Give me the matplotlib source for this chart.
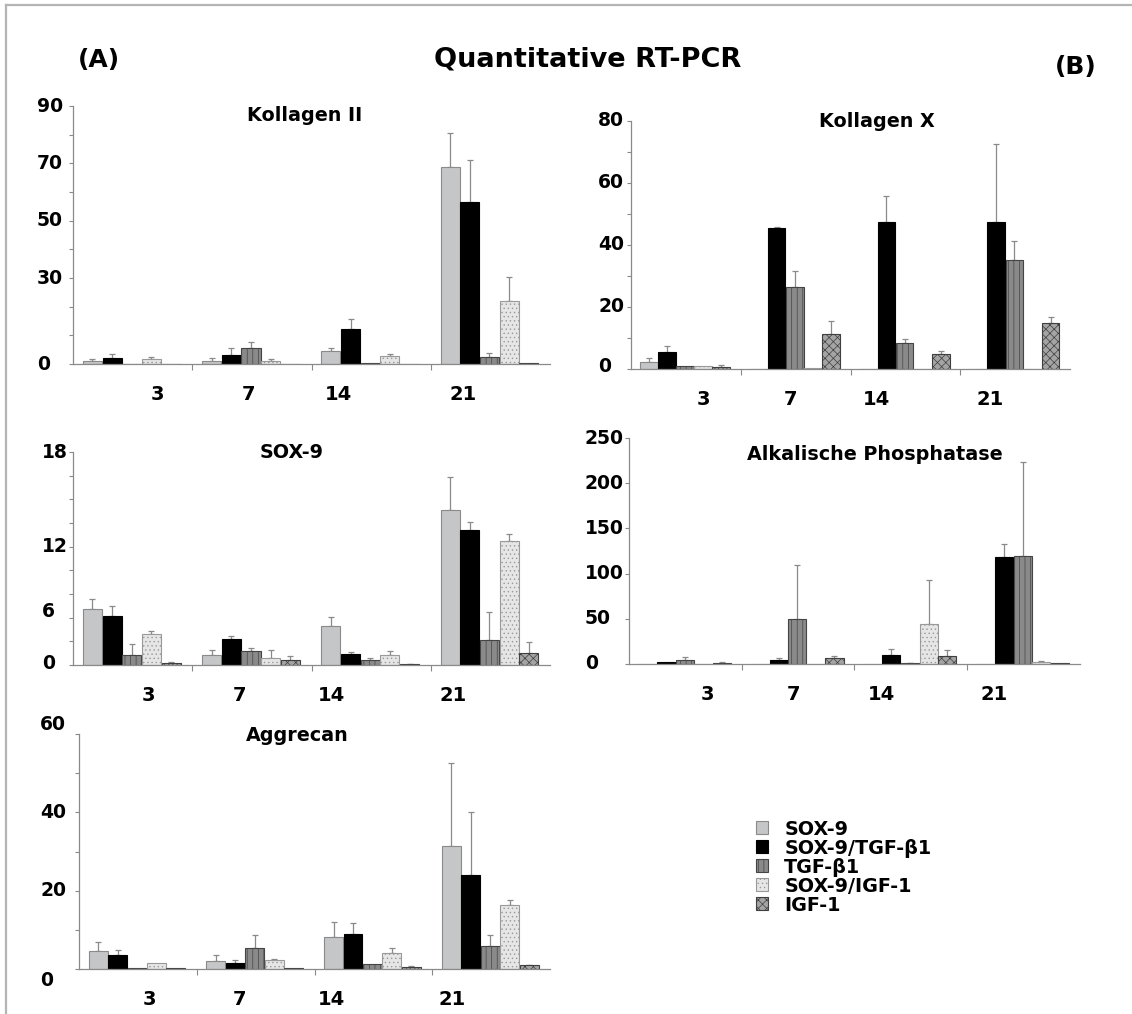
import numpy as np
import matplotlib.pyplot as plt
from matplotlib import transforms
from matplotlib.patches import Patch
from matplotlib.lines import Line2D

# Quantitative RT-PCR, Werte (Mittelwert, SD nach oben)
days = ["3", "7", "14", "21"]
groups = ["SOX-9", "SOX-9/TGF-β1", "TGF-β1", "SOX-9/IGF-1", "IGF-1"]

# Kollagen II
kol2_mean = [[1.0, 1.0, 4.5, 68.7],
             [2.2, 3.0, 12.2, 56.4],
             [0.0, 5.5, 0.2, 2.6],
             [1.6, 0.9, 2.7, 21.9],
             [0.1, 0.1, 0.0, 0.2]]
kol2_sd = [[0.6, 1.1, 1.2, 11.8],
           [1.2, 2.5, 3.6, 14.8],
           [0.0, 2.3, 0.0, 1.1],
           [0.7, 0.7, 0.7, 8.4],
           [0.0, 0.0, 0.0, 0.0]]

# Kollagen X
kolx_mean = [[2.1, 0.0, 0.1, 0.0],
             [5.4, 45.6, 47.4, 47.4],
             [1.1, 26.3, 8.5, 35.2],
             [1.1, 0.2, 0.0, 0.0],
             [0.75, 11.2, 5.0, 14.8]]
kolx_sd = [[1.3, 0.0, 0.0, 0.0],
           [2.0, 0.3, 8.5, 25.1],
           [0.0, 5.2, 1.3, 6.2],
           [0.0, 0.0, 0.0, 0.0],
           [0.55, 4.4, 0.9, 2.0]]

# SOX-9
sox_mean = [[4.72, 0.81, 3.31, 13.1],
            [4.10, 2.19, 0.96, 11.4],
            [0.87, 1.15, 0.45, 2.08],
            [2.61, 0.56, 0.87, 10.5],
            [0.17, 0.42, 0.08, 1.01]]
sox_sd = [[0.84, 0.45, 0.73, 2.8],
          [0.87, 0.25, 0.16, 0.7],
          [0.9, 0.28, 0.11, 2.44],
          [0.23, 0.7, 0.34, 0.6],
          [0.05, 0.31, 0.03, 0.96]]

# Alkalische Phosphatase
ap_mean = [[0.5, 0.0, 0.0, 0.0],
           [2.2, 4.4, 9.6, 118.7],
           [4.4, 49.8, 1.0, 119.8],
           [0.0, 0.5, 44.2, 2.2],
           [1.1, 6.3, 9.2, 1.1]]
ap_sd = [[0.0, 0.0, 0.0, 0.0],
         [0.0, 2.2, 7.0, 14.0],
         [3.0, 59.2, 0.5, 103.2],
         [0.0, 0.0, 48.7, 0.7],
         [0.7, 2.9, 6.3, 0.0]]

# Aggrecan
agg_mean = [[4.6, 2.0, 8.2, 31.3],
            [3.5, 1.45, 8.9, 23.9],
            [0.25, 5.4, 1.2, 6.0],
            [1.5, 2.3, 4.0, 16.4],
            [0.2, 0.35, 0.5, 0.9]]
agg_sd = [[2.2, 1.6, 3.8, 21.2],
          [1.4, 0.75, 2.8, 16.2],
          [0.0, 3.3, 0.0, 2.6],
          [0.0, 0.3, 1.3, 1.3],
          [0.0, 0.0, 0.2, 0.2]]

# Stil der Balken
styles = [dict(facecolor="#c4c6c8", edgecolor="#8a8a8a", hatch=None),
          dict(facecolor="#000000", edgecolor="#000000", hatch=None),
          dict(facecolor="#8a8a8a", edgecolor="#444444", hatch="|||"),
          dict(facecolor="#e6e6e6", edgecolor="#9a9a9a", hatch="...."),
          dict(facecolor="#a4a4a4", edgecolor="#3f3f3f", hatch="xxxx")]

plt.rcParams["hatch.linewidth"] = 0.5
plt.rcParams["font.weight"] = "bold"
gray = "#8a8a8a"

W, H = 1132, 1014
fig = plt.figure(figsize=(W / 100, H / 100), dpi=100)


def add_ax(l, r, t, b):
    return fig.add_axes([l / W, 1 - b / H, (r - l) / W, (b - t) / H])


def panel(ax, mean, sd, ymax, ystep, ylab_vals, ylab_pos, ylab_x, xlab_pos, title, tx, ty):
    bw = 0.165
    for j in range(5):
        x = np.arange(4) + 0.08 + bw * (j + 0.5)
        st = styles[j]
        ax.bar(x, mean[j], width=bw * 0.97, facecolor=st["facecolor"],
               edgecolor=st["edgecolor"], hatch=st["hatch"], linewidth=0.8, zorder=2)
        m = np.array(mean[j])
        s = np.array(sd[j])
        k = s > 0
        ax.errorbar(x[k], m[k], yerr=[np.zeros(k.sum()), s[k]], fmt="none",
                    ecolor=gray, elinewidth=0.9, capsize=2.2, capthick=0.9, zorder=1)
    ax.set_xlim(0, 4)
    ax.set_ylim(0, ymax)
    for s in ["top", "right"]:
        ax.spines[s].set_visible(False)
    for s in ["left", "bottom"]:
        ax.spines[s].set_color(gray)
        ax.spines[s].set_linewidth(0.9)
    ax.set_xticks([1, 2, 3])
    ax.set_xticklabels([])
    ax.set_yticks(np.arange(0, ymax + 0.01, ystep))
    ax.set_yticklabels([])
    ax.tick_params(axis="x", length=4, color=gray, direction="out")
    ax.tick_params(axis="y", length=3, color=gray, direction="out")
    # Achsenbeschriftung wie im Original (linksbuendig)
    tr = transforms.blended_transform_factory(fig.transFigure, ax.transData)
    for v, p in zip(ylab_vals, ylab_pos):
        ax.text(ylab_x / W, p, v, transform=tr, ha="left", va="center",
                fontsize=13.5, fontweight="bold", clip_on=False)
    trx = transforms.offset_copy(
        transforms.blended_transform_factory(ax.transData, ax.transAxes),
        fig=fig, y=-22, units="points")
    for d, p in zip(days, xlab_pos):
        ax.text(p, 0, d, transform=trx, ha="center", va="center",
                fontsize=14, fontweight="bold", clip_on=False)
    fig.text(tx / W, 1 - ty / H, title, ha="center", va="baseline",
             fontsize=13.8, fontweight="bold")


ax1 = add_ax(73, 550, 106, 364)
panel(ax1, kol2_mean, kol2_sd, 90, 10, ["0", "30", "50", "70", "90"], [0, 30, 50, 70, 90],
      37, [0.71, 1.47, 2.23, 3.27], "Kollagen II", 305, 121)

ax2 = add_ax(631, 1070, 121, 369)
panel(ax2, kolx_mean, kolx_sd, 80, 10, ["0", "20", "40", "60", "80"], [0.8, 20, 40, 60, 80],
      598, [0.66, 1.45, 2.24, 3.27], "Kollagen X", 877, 127)

ax3 = add_ax(73, 550, 452, 665)
panel(ax3, sox_mean, sox_sd, 18, 2, ["0", "6", "12", "18"], [0.1, 4.5, 10.0, 18],
      42, [0.63, 1.40, 2.17, 3.19], "SOX-9", 292, 458)

ax4 = add_ax(629, 1080, 438, 664)
panel(ax4, ap_mean, ap_sd, 250, 50, ["0", "50", "100", "150", "200", "250"],
      [1, 50, 100, 150, 200, 250], 585, [0.70, 1.46, 2.24, 3.24],
      "Alkalische Phosphatase", 875, 460)

ax5 = add_ax(79, 550, 734, 969)
panel(ax5, agg_mean, agg_sd, 60, 10, ["0", "20", "40", "60"], [-2.9, 20, 40, 62.3],
      40, [0.60, 1.36, 2.14, 3.17], "Aggrecan", 297, 741)

# Ueberschriften
fig.text(588 / W, 1 - 67 / H, "Quantitative RT-PCR", ha="center", va="baseline",
         fontsize=19.5, fontweight="bold")
fig.text(78 / W, 1 - 67 / H, "(A)", ha="left", va="baseline", fontsize=18, fontweight="bold")
fig.text(1055 / W, 1 - 74 / H, "(B)", ha="left", va="baseline", fontsize=18, fontweight="bold")

# Legende
handles = [Patch(facecolor=st["facecolor"], edgecolor=st["edgecolor"], hatch=st["hatch"],
                 linewidth=0.8) for st in styles]
fig.legend(handles, groups, loc="upper left", bbox_to_anchor=(746 / W, 1 - 810 / H),
           frameon=False, handlelength=0.65, handleheight=0.65,
           handletextpad=0.85, labelspacing=0.0, borderpad=0,
           prop={"weight": "bold", "size": 13.8})

# Rahmen oben und links
fig.add_artist(Line2D([6 / W, 1], [1 - 5 / H, 1 - 5 / H], transform=fig.transFigure,
                      color="#b4b4b4", linewidth=1.6))
fig.add_artist(Line2D([6 / W, 6 / W], [0, 1 - 5 / H], transform=fig.transFigure,
                      color="#b4b4b4", linewidth=1.6))

fig.savefig("out.png", dpi=100)
